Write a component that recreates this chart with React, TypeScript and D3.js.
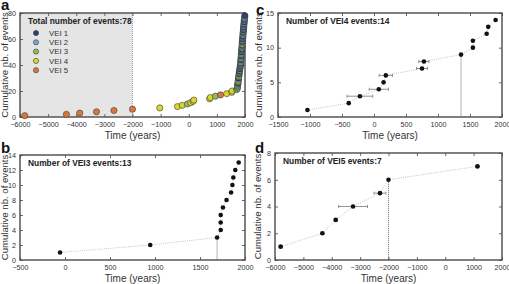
import * as d3 from "d3";
import React, { useEffect, useRef } from "react";

const FONT = "'Liberation Sans', Arial, Helvetica, sans-serif";

// a: every eruption in date order with its VEI class
const allYears = [
  -5830, -4350, -3875, -3280, -2660, -2000, -1030, -400, -230, -50, 70, 150, 180,
  740, 770, 950, 1130, 1350, 1530, 1540, 1700, 1730, 1730, 1730, 1745, 1750, 1755,
  1760, 1765, 1770, 1780, 1785, 1790, 1795, 1798, 1812, 1818, 1825, 1831, 1838,
  1844, 1845, 1850, 1856, 1860, 1862, 1868, 1870, 1875, 1879, 1883, 1887, 1890,
  1895, 1899, 1900, 1903, 1907, 1912, 1916, 1921, 1925, 1928, 1930, 1935, 1940,
  1944, 1948, 1952, 1957, 1961, 1965, 1970, 1973, 1978, 1982, 1991, 1995,
];
const allVei = [
  5, 5, 5, 5, 5, 5, 4, 4, 4, 3, 4, 4, 4,
  4, 4, 3, 5, 4, 4, 4, 3, 3, 3, 3, 2, 1, 3,
  4, 2, 1, 2, 4, 1, 3, 1, 2, 1, 2, 1, 2,
  1, 3, 2, 1, 3, 2, 1, 3, 2, 1, 2, 1, 3,
  2, 1, 4, 2, 1, 2, 1, 2, 1, 2, 3, 1, 2,
  1, 2, 1, 2, 1, 2, 1, 2, 1, 2, 2, 1,
];
const veiNames = ["VEI 1", "VEI 2", "VEI 3", "VEI 4", "VEI 5"];
const veiColors = ["#2f3f70", "#79a9c2", "#8dbd5c", "#d9d62c", "#d9783a"];

// b: VEI3 eruptions
const vei3Years = [-55, 947, 1690, 1730, 1730, 1730, 1755, 1795, 1845, 1860, 1870, 1892, 1930];

// c: VEI4 eruptions and dating uncertainty (half width, years)
const vei4Years = [-1040, -395, -220, 75, 150, 185, 750, 780, 1360, 1545, 1545, 1760, 1785, 1900];
const vei4Err = [0, 0, 200, 150, 0, 105, 85, 80, 0, 0, 0, 0, 0, 0];

// d: VEI5 eruptions and dating uncertainty
const vei5Years = [-5800, -4330, -3860, -3250, -2300, -2000, 1135];
const vei5Err = [60, 50, 60, 510, 210, 0, 60];

interface Box { x: number; y: number; w: number; h: number }
type G = d3.Selection<SVGGElement, unknown, null, undefined>;
type Lin = d3.ScaleLinear<number, number>;

function frame(
  svg: d3.Selection<SVGSVGElement, unknown, null, undefined>,
  box: Box,
  xDom: [number, number],
  yDom: [number, number],
  xStep: number,
  yStep: number,
  letter: { text: string; x: number; y: number },
  labelOffset: number,
  under?: (g: G, x: Lin, y: Lin) => void
) {
  const x = d3.scaleLinear().domain(xDom).range([box.x, box.x + box.w]);
  const y = d3.scaleLinear().domain(yDom).range([box.y + box.h, box.y]);
  const g = svg.append("g");

  if (under) under(g, x, y);

  const xt = d3.range(xDom[0], xDom[1] + 1, xStep);
  const yt = d3.range(yDom[0], yDom[1] + 0.01, yStep);
  const fmt = d3.format("d");

  const axes = g.append("g");
  const bottom = axes.append("g").attr("transform", `translate(0,${box.y + box.h})`)
    .call(d3.axisBottom(x).tickValues(xt).tickFormat((d) => fmt(d as number)).tickSize(-3).tickPadding(5));
  const top = axes.append("g").attr("transform", `translate(0,${box.y})`)
    .call(d3.axisTop(x).tickValues(xt).tickFormat(() => "").tickSize(-3));
  const left = axes.append("g").attr("transform", `translate(${box.x},0)`)
    .call(d3.axisLeft(y).tickValues(yt).tickFormat((d) => fmt(d as number)).tickSize(-3).tickPadding(4));
  const right = axes.append("g").attr("transform", `translate(${box.x + box.w},0)`)
    .call(d3.axisRight(y).tickValues(yt).tickFormat(() => "").tickSize(-3));
  [bottom, top, left, right].forEach((a) => {
    a.select(".domain").remove();
    a.selectAll("line").attr("stroke", "#444").attr("stroke-width", 0.8);
    a.selectAll("text").attr("font-size", 7.2).attr("fill", "#333").attr("font-family", FONT);
  });

  g.append("rect")
    .attr("x", box.x).attr("y", box.y).attr("width", box.w).attr("height", box.h)
    .attr("fill", "none").attr("stroke", "#4a4a4a").attr("stroke-width", 1.4);

  g.append("text")
    .attr("x", box.x + box.w / 2).attr("y", box.y + box.h + 22)
    .attr("text-anchor", "middle").attr("font-family", FONT).attr("font-size", 10).attr("fill", "#333")
    .text("Time (years)");

  g.append("text")
    .attr("transform", `translate(${box.x - labelOffset},${box.y + box.h / 2}) rotate(-90)`)
    .attr("text-anchor", "middle").attr("dominant-baseline", "central")
    .attr("font-family", FONT).attr("font-size", 9.6).attr("fill", "#333")
    .text("Cumulative nb. of events");

  g.append("text")
    .attr("x", letter.x).attr("y", letter.y)
    .attr("font-family", FONT).attr("font-size", 15).attr("font-weight", "bold").attr("fill", "#111")
    .text(letter.text);

  return { g, x, y };
}

function title(g: G, box: Box, text: string) {
  g.append("text")
    .attr("x", box.x + 8).attr("y", box.y + 11)
    .attr("font-family", FONT).attr("font-size", 8.4).attr("font-weight", "bold").attr("fill", "#222")
    .text(text);
}

// cumulative curve with black markers, optional error bars and a dotted drop line
function series(g: G, x: Lin, y: Lin, years: number[], err: number[] | null, dropAt: number) {
  const pts = years.map((t, i) => ({ t, n: i + 1, e: err ? err[i] : 0 }));
  const line = d3.line<{ t: number; n: number }>().x((d) => x(d.t)).y((d) => y(d.n));
  g.append("path").datum(pts).attr("d", line).attr("fill", "none")
    .attr("stroke", "#b5b5b5").attr("stroke-width", 0.8).attr("stroke-dasharray", "1,1.2");

  const p = pts[dropAt];
  g.append("line")
    .attr("x1", x(p.t)).attr("x2", x(p.t)).attr("y1", y(p.n)).attr("y2", y(0))
    .attr("stroke", "#444").attr("stroke-width", 0.8).attr("stroke-dasharray", "1,1");

  const eb = g.append("g").attr("stroke", "#777").attr("stroke-width", 0.8);
  pts.filter((d) => d.e > 0).forEach((d) => {
    eb.append("line").attr("x1", x(d.t - d.e)).attr("x2", x(d.t + d.e)).attr("y1", y(d.n)).attr("y2", y(d.n));
    [d.t - d.e, d.t + d.e].forEach((c) =>
      eb.append("line").attr("x1", x(c)).attr("x2", x(c)).attr("y1", y(d.n) - 1.5).attr("y2", y(d.n) + 1.5)
    );
  });

  g.append("g").selectAll("circle").data(pts).join("circle")
    .attr("cx", (d) => x(d.t)).attr("cy", (d) => y(d.n)).attr("r", 2.3).attr("fill", "#111");
}

export default function App() {
  const ref = useRef<SVGSVGElement | null>(null);

  useEffect(() => {
    const svg = d3.select(ref.current!);
    svg.selectAll("*").remove();

    // a: all events coloured by VEI
    const boxA: Box = { x: 20, y: 13, w: 225, h: 104 };
    const a = frame(svg, boxA, [-6000, 2000], [0, 80], 1000, 20, { text: "a", x: 1, y: 10 }, 15.5, (g, x, y) => {
      g.append("rect")
        .attr("x", x(-6000)).attr("y", y(80)).attr("width", x(-2000) - x(-6000)).attr("height", y(0) - y(80))
        .attr("fill", "#e5e5e5");
      g.append("line")
        .attr("x1", x(-2000)).attr("x2", x(-2000)).attr("y1", y(80)).attr("y2", y(0))
        .attr("stroke", "#888").attr("stroke-width", 0.8).attr("stroke-dasharray", "1,1");
    });
    const cum = allYears.map((t, i) => ({ t, n: i + 1, v: allVei[i] }));
    a.g.append("g").selectAll("circle").data(cum).join("circle")
      .attr("cx", (d) => a.x(d.t)).attr("cy", (d) => a.y(d.n)).attr("r", 3.1)
      .attr("fill", (d) => veiColors[d.v - 1]).attr("stroke", "#3a3a3a").attr("stroke-width", 0.6);
    title(a.g, boxA, `Total number of events:${allYears.length}`);
    const leg = a.g.append("g");
    veiNames.forEach((name, i) => {
      const ly = boxA.y + 20 + i * 9.3;
      leg.append("circle").attr("cx", boxA.x + 16).attr("cy", ly).attr("r", 2.6)
        .attr("fill", veiColors[i]).attr("stroke", "#3a3a3a").attr("stroke-width", 0.6);
      leg.append("text").attr("x", boxA.x + 29).attr("y", ly + 2.6)
        .attr("font-family", FONT).attr("font-size", 7.8).attr("fill", "#333").text(name);
    });

    // b: VEI3
    const boxB: Box = { x: 20, y: 155, w: 225, h: 105 };
    const b = frame(svg, boxB, [-500, 2000], [0, 14], 500, 2, { text: "b", x: 1, y: 153 }, 15.5);
    series(b.g, b.x, b.y, vei3Years, null, 2);
    title(b.g, boxB, `Number of VEI3 events:${vei3Years.length}`);

    // c: VEI4
    const boxC: Box = { x: 278, y: 13, w: 224, h: 104 };
    const c = frame(svg, boxC, [-1500, 2000], [0, 15], 500, 5, { text: "c", x: 256, y: 15 }, 20);
    series(c.g, c.x, c.y, vei4Years, vei4Err, 8);
    title(c.g, boxC, `Number of VEI4 events:${vei4Years.length}`);

    // d: VEI5
    const boxD: Box = { x: 275, y: 153, w: 227, h: 107 };
    const d = frame(svg, boxD, [-6000, 2000], [0, 8], 1000, 2, { text: "d", x: 255, y: 153 }, 18);
    series(d.g, d.x, d.y, vei5Years, vei5Err, 5);
    title(d.g, boxD, `Number of VEI5 events:${vei5Years.length}`);
  }, []);

  return (
    <svg
      ref={ref}
      width={509}
      height={284}
      style={{ position: "absolute", left: 0, top: 0, background: "#fff" }}
    />
  );
}
